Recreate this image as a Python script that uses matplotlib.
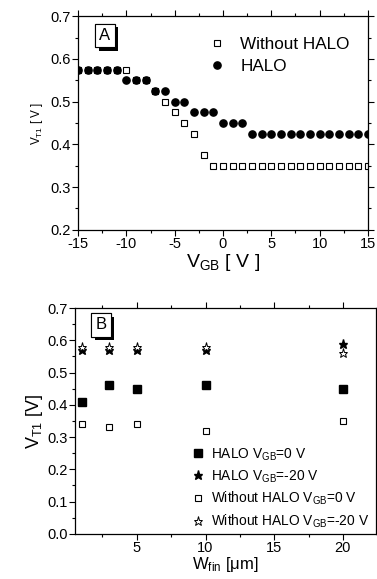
import matplotlib
matplotlib.use("Agg")
import matplotlib.pyplot as plt
import matplotlib.patheffects as pe
from matplotlib.ticker import MultipleLocator

plt.rcParams['font.family'] = ['Liberation Sans', 'DejaVu Sans']
plt.rcParams['mathtext.default'] = 'regular'
plt.rcParams['axes.unicode_minus'] = False

# panel A: V_T1 vs V_GB
vgb = list(range(-15, 16))
vt_nohalo = [0.575] * 6 + [0.55, 0.55, 0.525, 0.5, 0.475, 0.45, 0.425, 0.375] + [0.35] * 17
vt_halo = [0.575] * 5 + [0.55] * 3 + [0.525] * 2 + [0.5] * 2 + [0.475] * 3 + [0.45] * 3 + [0.425] * 13

# panel B: V_T1 vs W_fin
wfin = [1, 3, 5, 10, 20]
halo_0 = [0.41, 0.46, 0.45, 0.46, 0.45]
halo_m20 = [0.57, 0.57, 0.57, 0.57, 0.59]
nohalo_0 = [0.34, 0.33, 0.34, 0.32, 0.35]
nohalo_m20 = [0.58, 0.58, 0.58, 0.58, 0.56]

fig = plt.figure(figsize=(3.77, 5.79), dpi=100)
axA = fig.add_axes([0.207, 0.603, 0.769, 0.369])
axB = fig.add_axes([0.199, 0.078, 0.798, 0.390])


def style(ax):
    ax.tick_params(which='both', direction='out', top=True, right=True, labelsize=10.5)
    ax.tick_params(which='major', length=4, width=0.8)
    ax.tick_params(which='minor', length=2.5, width=0.8)
    ax.tick_params(axis='both', pad=1)
    for s in ax.spines.values():
        s.set_linewidth(0.9)


def panel_label(ax, txt, x, y):
    t = ax.text(x, y, txt, transform=ax.transAxes, fontsize=12, ha='center', va='center',
                bbox=dict(boxstyle='square,pad=0.25', fc='white', ec='black', lw=0.8))
    t.get_bbox_patch().set_path_effects([
        pe.withSimplePatchShadow(offset=(2.5, -2.5), shadow_rgbFace='black', alpha=1),
        pe.Normal()])


# --- A ---
axA.plot(vgb, vt_nohalo, 's', ms=4.5, mfc='white', mec='black', mew=0.8, label='Without HALO')
axA.plot(vgb, vt_halo, 'o', ms=5.2, color='black', label='HALO')
axA.set_xlim(-15, 15)
axA.set_ylim(0.2, 0.7)
axA.xaxis.set_major_locator(MultipleLocator(5))
axA.xaxis.set_minor_locator(MultipleLocator(2.5))
axA.yaxis.set_major_locator(MultipleLocator(0.1))
axA.yaxis.set_minor_locator(MultipleLocator(0.05))
style(axA)
axA.set_xlabel('V$_{GB}$ [ V ]', fontsize=14, labelpad=1)
axA.set_ylabel('V$_{T1}$ [ V ]', fontsize=8.5, labelpad=4)
axA.legend(loc='upper right', frameon=False, fontsize=12.3, handletextpad=0.9,
           borderaxespad=0.4, labelspacing=0.4, handlelength=1.0,
           bbox_to_anchor=(0.985, 0.965))
panel_label(axA, 'A', 0.093, 0.91)

# --- B ---
axB.plot(wfin, halo_0, 's', ms=5.5, color='black', label='HALO V$_{GB}$=0 V')
axB.plot(wfin, halo_m20, '*', ms=6.5, color='black', label='HALO V$_{GB}$=-20 V')
axB.plot(wfin, nohalo_0, 's', ms=5, mfc='white', mec='black', mew=0.8,
         label='Without HALO V$_{GB}$=0 V')
axB.plot(wfin, nohalo_m20, '*', ms=6.5, mfc='white', mec='black', mew=0.7,
         label='Without HALO V$_{GB}$=-20 V')
axB.set_xlim(0.5, 22.4)
axB.set_ylim(0.0, 0.7)
axB.xaxis.set_major_locator(MultipleLocator(5))
axB.xaxis.set_minor_locator(MultipleLocator(2.5))
axB.yaxis.set_major_locator(MultipleLocator(0.1))
axB.yaxis.set_minor_locator(MultipleLocator(0.05))
style(axB)
axB.set_xlabel('W$_{fin}$ [$\\mu$m]', fontsize=12, labelpad=0)
axB.set_ylabel('V$_{T1}$ [V]', fontsize=13, labelpad=2)
axB.legend(loc='lower right', frameon=False, fontsize=9.9, handletextpad=0.4,
           borderaxespad=0.1, labelspacing=0.4, handlelength=1.0,
           bbox_to_anchor=(1.0, -0.015))
panel_label(axB, 'B', 0.086, 0.925)

fig.savefig('out.png', dpi=100)
